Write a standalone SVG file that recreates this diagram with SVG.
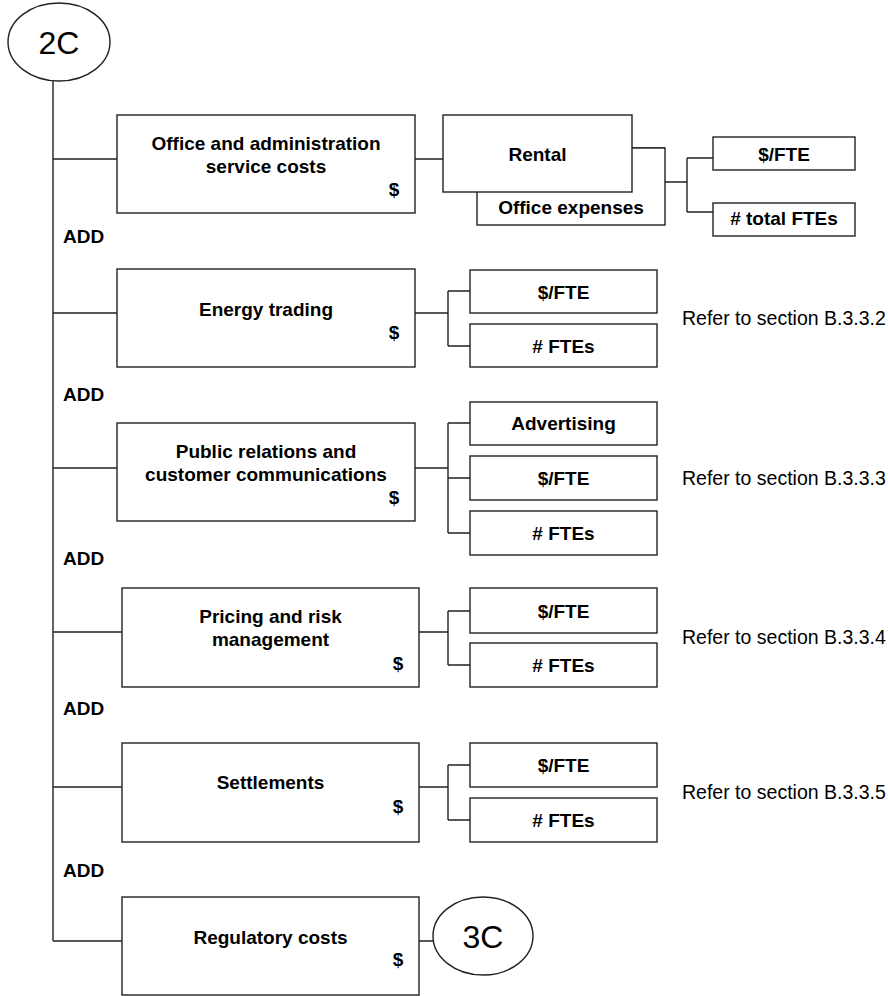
<svg xmlns="http://www.w3.org/2000/svg" width="888" height="996" viewBox="0 0 888 996">
<style>
  .bx { fill: #fff; stroke: #222; stroke-width: 1.4; }
  .ln { fill: none; stroke: #222; stroke-width: 1.4; }
  .lb { font-family: "Liberation Sans", Arial, sans-serif; font-weight: bold; font-size: 19px; fill: #000; text-anchor: middle; }
  .dl { font-family: "Liberation Sans", Arial, sans-serif; font-weight: bold; font-size: 19px; fill: #000; text-anchor: middle; }
  .add { font-family: "Liberation Sans", Arial, sans-serif; font-weight: bold; font-size: 19px; fill: #000; }
  .ref { font-family: "Liberation Sans", Arial, sans-serif; font-size: 19.5px; fill: #000; }
  .big { font-family: "Liberation Sans", Arial, sans-serif; font-size: 32px; fill: #000; text-anchor: middle; }
</style>
<rect width="888" height="996" fill="#fff"/>

<g id="connectors">
  <path class="ln" d="M53 81 V941"/>
  <path class="ln" d="M53 159 H117 M415 159 H443"/>
  <path class="ln" d="M632 148 H665 M665 182 H687 M687 158 V212 M687 158 H713 M687 212 H713"/>
  <path class="ln" d="M53 313 H117 M415 313 H448 M448 291 V346 M448 291 H470 M448 346 H470"/>
  <path class="ln" d="M53 468 H117 M415 468 H448 M448 423 V533 M448 423 H470 M448 478 H470 M448 533 H470"/>
  <path class="ln" d="M53 632 H122 M419 632 H448 M448 611 V665 M448 611 H470 M448 665 H470"/>
  <path class="ln" d="M53 787 H122 M419 787 H448 M448 765 V820 M448 765 H470 M448 820 H470"/>
  <path class="ln" d="M53 941 H122 M419 941 H433"/>
</g>

<g id="n2C">
  <ellipse class="bx" cx="59" cy="42" rx="51" ry="39"/>
  <text class="big" x="59" y="54">2C</text>
</g>

<g id="office">
  <rect class="bx" x="117" y="115" width="298" height="98"/>
  <text class="lb" x="266" y="150">Office and administration</text>
  <text class="lb" x="266" y="173">service costs</text>
  <text class="dl" x="394" y="196">$</text>
</g>
<g id="officeExpenses">
  <rect class="bx" x="477" y="148" width="188" height="77"/>
  <text class="lb" x="571" y="214">Office expenses</text>
</g>
<g id="rental">
  <rect class="bx" x="443" y="115" width="189" height="77"/>
  <text class="lb" x="537.5" y="161">Rental</text>
</g>
<g id="officeFte">
  <rect class="bx" x="713" y="137" width="142" height="33"/>
  <text class="lb" x="784" y="161">$/FTE</text>
</g>
<g id="officeTotalFtes">
  <rect class="bx" x="713" y="203" width="142" height="33"/>
  <text class="lb" x="784" y="225"># total FTEs</text>
</g>

<text class="add" x="63" y="243">ADD</text>

<g id="energy">
  <rect class="bx" x="117" y="269" width="298" height="98"/>
  <text class="lb" x="266" y="316">Energy trading</text>
  <text class="dl" x="394" y="339">$</text>
</g>
<g id="energyFte">
  <rect class="bx" x="470" y="270" width="187" height="43"/>
  <text class="lb" x="563.5" y="298.5">$/FTE</text>
</g>
<g id="energyFtes">
  <rect class="bx" x="470" y="324" width="187" height="43"/>
  <text class="lb" x="563.5" y="352.5"># FTEs</text>
</g>
<text class="ref" x="682" y="325">Refer to section B.3.3.2</text>

<text class="add" x="63" y="401">ADD</text>

<g id="publicRelations">
  <rect class="bx" x="117" y="423" width="298" height="98"/>
  <text class="lb" x="266" y="458">Public relations and</text>
  <text class="lb" x="266" y="481">customer communications</text>
  <text class="dl" x="394" y="504">$</text>
</g>
<g id="advertising">
  <rect class="bx" x="470" y="402" width="187" height="43"/>
  <text class="lb" x="563.5" y="430">Advertising</text>
</g>
<g id="publicFte">
  <rect class="bx" x="470" y="456" width="187" height="44"/>
  <text class="lb" x="563.5" y="485">$/FTE</text>
</g>
<g id="publicFtes">
  <rect class="bx" x="470" y="511" width="187" height="44"/>
  <text class="lb" x="563.5" y="540"># FTEs</text>
</g>
<text class="ref" x="682" y="485">Refer to section B.3.3.3</text>

<text class="add" x="63" y="565">ADD</text>

<g id="pricing">
  <rect class="bx" x="122" y="588" width="297" height="99"/>
  <text class="lb" x="270.5" y="623">Pricing and risk</text>
  <text class="lb" x="270.5" y="646">management</text>
  <text class="dl" x="398" y="670">$</text>
</g>
<g id="pricingFte">
  <rect class="bx" x="470" y="588" width="187" height="45"/>
  <text class="lb" x="563.5" y="617.5">$/FTE</text>
</g>
<g id="pricingFtes">
  <rect class="bx" x="470" y="643" width="187" height="44"/>
  <text class="lb" x="563.5" y="672"># FTEs</text>
</g>
<text class="ref" x="682" y="644">Refer to section B.3.3.4</text>

<text class="add" x="63" y="715">ADD</text>

<g id="settlements">
  <rect class="bx" x="122" y="743" width="297" height="99"/>
  <text class="lb" x="270.5" y="789">Settlements</text>
  <text class="dl" x="398" y="813">$</text>
</g>
<g id="settlementsFte">
  <rect class="bx" x="470" y="743" width="187" height="44"/>
  <text class="lb" x="563.5" y="772">$/FTE</text>
</g>
<g id="settlementsFtes">
  <rect class="bx" x="470" y="798" width="187" height="44"/>
  <text class="lb" x="563.5" y="827"># FTEs</text>
</g>
<text class="ref" x="682" y="799">Refer to section B.3.3.5</text>

<text class="add" x="63" y="877">ADD</text>

<g id="regulatory">
  <rect class="bx" x="122" y="897" width="297" height="98"/>
  <text class="lb" x="270.5" y="944">Regulatory costs</text>
  <text class="dl" x="398" y="966">$</text>
</g>
<g id="n3C">
  <ellipse class="bx" cx="483" cy="936" rx="50" ry="39"/>
  <text class="big" x="483" y="948">3C</text>
</g>
</svg>
